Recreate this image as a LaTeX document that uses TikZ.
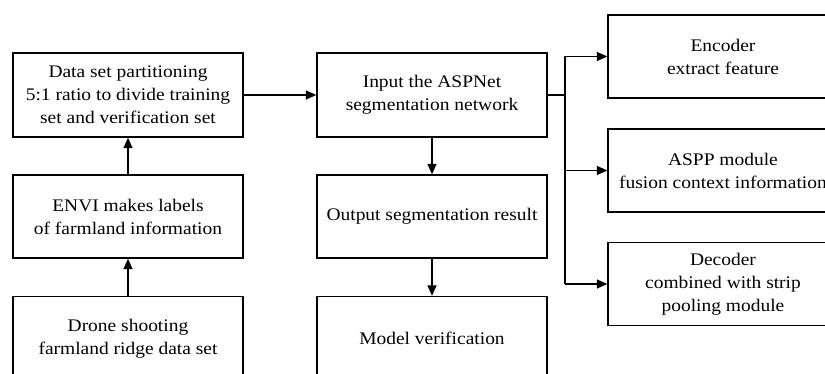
\documentclass[tikz,border=0pt]{standalone}
\usepackage{fontspec}
\setmainfont[FakeStretch=1.1]{Liberation Serif}
\usetikzlibrary{arrows.meta}
\tikzset{
  box/.style={draw, line width=1.3pt, minimum width=230pt, minimum height=84pt,
    align=center, inner sep=2pt, font=\fontsize{17.7}{23}\selectfont},
  arr/.style={line width=1.3pt, -{Triangle[length=10.5pt,width=9pt]}},
  ln/.style={line width=1.3pt}
}
\begin{document}
\begin{tikzpicture}[x=1pt,y=-1pt]
\useasboundingbox (0,0) rectangle (825,374);
\clip (0,0) rectangle (825,374);
\node[box] (data) at (128,95) {Data set partitioning\\5:1 ratio to divide training\\set and verification set};
\node[box, minimum height=83pt] (envi) at (128,216.5) {ENVI makes labels\\of farmland information};
\node[box] (drone) at (128,338.5) {Drone shooting\\farmland ridge data set};
\node[box] (input) at (432,95) {Input the ASPNet\\segmentation network};
\node[box, minimum height=83pt] (output) at (432,216.5) {Output segmentation result};
\node[box] (model) at (432,338.5) {Model verification};
\node[box, minimum height=83pt] (enc) at (723,56.5) {Encoder\\extract feature};
\node[box, minimum height=83pt] (aspp) at (723,170.5) {ASPP module\\fusion context information};
\node[box, minimum height=83pt] (dec) at (723,284) {Decoder\\combined with strip\\pooling module};
\coordinate (br) at (565,95);
\draw[arr] (drone) -- (envi);
\draw[arr] (envi) -- (data);
\draw[arr] (data.east) -- (input.west);
\draw[arr] (input) -- (output);
\draw[arr] (output) -- (model);
\draw[ln] (input.east) -- (br);
\draw[ln] (br |- enc.west) -- (br |- dec.west);
\draw[arr] (br |- enc.west) -- (enc.west);
\draw[arr] (br |- aspp.west) -- (aspp.west);
\draw[arr] (br |- dec.west) -- (dec.west);
\end{tikzpicture}
\end{document}
